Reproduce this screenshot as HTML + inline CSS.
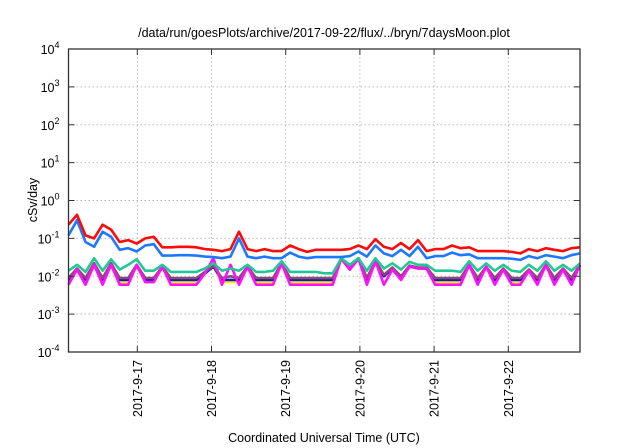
<!DOCTYPE html>
<html><head><meta charset="utf-8"><style>
body{margin:0;background:#fff}
svg{display:block;font-family:"Liberation Sans",sans-serif}
</style></head><body>
<svg id="chart" width="640" height="448" viewBox="0 0 640 448">
<text x="324" y="37" font-size="12.5" text-anchor="middle" fill="#000">/data/run/goesPlots/archive/2017-09-22/flux/../bryn/7daysMoon.plot</text>
<text transform="translate(37,200) rotate(-90)" font-size="12.5" text-anchor="middle" fill="#000">cSv/day</text>
<text x="324" y="442" font-size="12.5" text-anchor="middle" fill="#000">Coordinated Universal Time (UTC)</text>
<g id="grid"></g><g id="series"></g><g id="axes"></g>
</svg>
<script>
const dayLabels=["2017-9-17","2017-9-18","2017-9-19","2017-9-20","2017-9-21","2017-9-22"];
const yExps=[4,3,2,1,0,-1,-2,-3,-4];
const red=[0.23,0.42,0.12,0.1,0.23,0.17,0.08,0.09,0.073,0.1,0.11,0.058,0.058,0.06,0.06,0.058,0.052,0.05,0.046,0.052,0.15,0.052,0.046,0.052,0.046,0.046,0.065,0.052,0.044,0.05,0.05,0.05,0.05,0.052,0.065,0.052,0.095,0.06,0.052,0.076,0.052,0.09,0.046,0.052,0.052,0.065,0.055,0.058,0.046,0.046,0.046,0.046,0.044,0.04,0.052,0.046,0.055,0.05,0.046,0.055,0.058];
const blue=[0.12,0.3,0.08,0.06,0.15,0.11,0.05,0.055,0.045,0.065,0.07,0.035,0.035,0.036,0.036,0.035,0.033,0.032,0.03,0.033,0.1,0.033,0.03,0.033,0.03,0.03,0.042,0.033,0.03,0.032,0.032,0.032,0.032,0.034,0.045,0.033,0.065,0.04,0.034,0.05,0.034,0.06,0.03,0.034,0.034,0.042,0.036,0.038,0.03,0.03,0.03,0.03,0.029,0.027,0.034,0.03,0.036,0.033,0.03,0.036,0.04];
const green=[0.014,0.02,0.013,0.03,0.014,0.028,0.015,0.02,0.028,0.014,0.014,0.02,0.013,0.013,0.013,0.013,0.016,0.022,0.014,0.016,0.014,0.02,0.013,0.013,0.014,0.025,0.013,0.013,0.013,0.013,0.012,0.012,0.03,0.02,0.03,0.014,0.03,0.016,0.022,0.015,0.024,0.02,0.02,0.014,0.014,0.014,0.013,0.025,0.014,0.022,0.014,0.02,0.014,0.013,0.02,0.014,0.025,0.014,0.02,0.014,0.022];
const brown=[0.009,0.016,0.009,0.022,0.009,0.022,0.009,0.009,0.02,0.009,0.009,0.018,0.009,0.009,0.009,0.009,0.013,0.019,0.009,0.01,0.009,0.018,0.009,0.009,0.009,0.022,0.009,0.009,0.009,0.009,0.009,0.009,0.03,0.016,0.03,0.009,0.025,0.011,0.017,0.01,0.019,0.017,0.017,0.009,0.009,0.009,0.009,0.02,0.009,0.018,0.009,0.016,0.009,0.009,0.015,0.009,0.02,0.009,0.016,0.009,0.02];
const navy=[0.008,0.015,0.008,0.02,0.008,0.02,0.008,0.008,0.019,0.008,0.008,0.017,0.008,0.008,0.008,0.008,0.012,0.018,0.008,0.008,0.008,0.017,0.008,0.008,0.008,0.021,0.008,0.008,0.008,0.008,0.008,0.008,0.029,0.015,0.029,0.008,0.024,0.01,0.016,0.009,0.018,0.016,0.016,0.008,0.008,0.008,0.008,0.019,0.008,0.017,0.008,0.015,0.008,0.008,0.014,0.008,0.019,0.008,0.015,0.008,0.019];
const yellow=[0.007,0.015,0.007,0.02,0.007,0.02,0.007,0.007,0.019,0.007,0.007,0.017,0.007,0.007,0.007,0.007,0.012,0.018,0.007,0.007,0.007,0.017,0.007,0.007,0.007,0.021,0.007,0.007,0.007,0.007,0.007,0.007,0.029,0.015,0.029,0.007,0.024,0.01,0.016,0.008,0.018,0.016,0.016,0.007,0.007,0.007,0.007,0.019,0.007,0.017,0.007,0.015,0.007,0.007,0.014,0.007,0.019,0.007,0.015,0.007,0.019];
const magenta=[0.006,0.015,0.006,0.02,0.006,0.02,0.006,0.006,0.02,0.007,0.007,0.018,0.006,0.006,0.006,0.006,0.012,0.03,0.006,0.02,0.006,0.018,0.006,0.006,0.006,0.022,0.006,0.006,0.006,0.006,0.006,0.006,0.03,0.015,0.03,0.006,0.025,0.006,0.015,0.008,0.018,0.016,0.016,0.006,0.006,0.006,0.006,0.02,0.006,0.018,0.006,0.015,0.006,0.006,0.014,0.006,0.02,0.006,0.015,0.006,0.02];
const NS="http://www.w3.org/2000/svg";
const L=68.5,R=580,T=49,B=352;
const x0=137.3,dayW=74.2;
function xIdx(i,n){return L+(R-L)*i/(n-1);}
function yLog(v){return T+(4-Math.log10(v))*(B-T)/8;}
function yExp(e){return T+(4-e)*(B-T)/8;}
function mk(tag,attrs,parent){const e=document.createElementNS(NS,tag);for(const k in attrs)e.setAttribute(k,attrs[k]);parent.appendChild(e);return e;}
const grid=document.getElementById('grid'),axes=document.getElementById('axes'),ser=document.getElementById('series');
yExps.forEach(e=>{
  const y=yExp(e);
  if(e<4&&e>-4){const g=mk('line',{x1:L,x2:R,y1:y,y2:y,stroke:'#bbb','stroke-dasharray':'1.5,2.5','stroke-width':1},grid);
  
  }
  mk('line',{x1:L,x2:L+6,y1:y,y2:y,stroke:'#333'},axes);
  mk('line',{x1:R-6,x2:R,y1:y,y2:y,stroke:'#333'},axes);
  const t=mk('text',{x:L-9,y:y+5,'font-size':12.5,'text-anchor':'end',fill:'#000'},axes);
  
  
  t.textContent='10';
  const s=mk('tspan',{dy:-6,'font-size':9},t);s.textContent=String(e);
});
dayLabels.forEach((d,i)=>{
  const x=x0+i*dayW;
  const g=mk('line',{x1:x,x2:x,y1:T,y2:B,stroke:'#bbb','stroke-dasharray':'1.5,2.5','stroke-width':1},grid);
  
  
  mk('line',{x1:x,x2:x,y1:B-6,y2:B,stroke:'#333'},axes);
  mk('line',{x1:x,x2:x,y1:T,y2:T+6,stroke:'#333'},axes);
  const t=mk('text',{transform:`translate(${x+4.5},360) rotate(-90)`,'font-size':12.5,'text-anchor':'end',fill:'#000'},axes);
  
  
  t.textContent=d;
});
const fr=mk('rect',{x:L,y:T,width:R-L,height:B-T,fill:'none',stroke:'#333','stroke-width':1.3},axes);


const list=[['yellow-series',yellow,'#ffee00'],['navy-series',navy,'#0a1ec8'],['brown-series',brown,'#8c4a6e'],['magenta-series',magenta,'#ff10ff'],['green-series',green,'#20c896'],['blue-series',blue,'#1e78ff'],['red-series',red,'#ff0a0a']];
list.forEach(([name,arr,col])=>{
  const pts=arr.map((v,i)=>xIdx(i,arr.length).toFixed(1)+','+yLog(v).toFixed(1)).join(' ');
  const p=mk('polyline',{points:pts,fill:'none',stroke:col,'stroke-width':2.6,'stroke-linejoin':'round'},ser);
  
  
});
</script>
</body></html>
